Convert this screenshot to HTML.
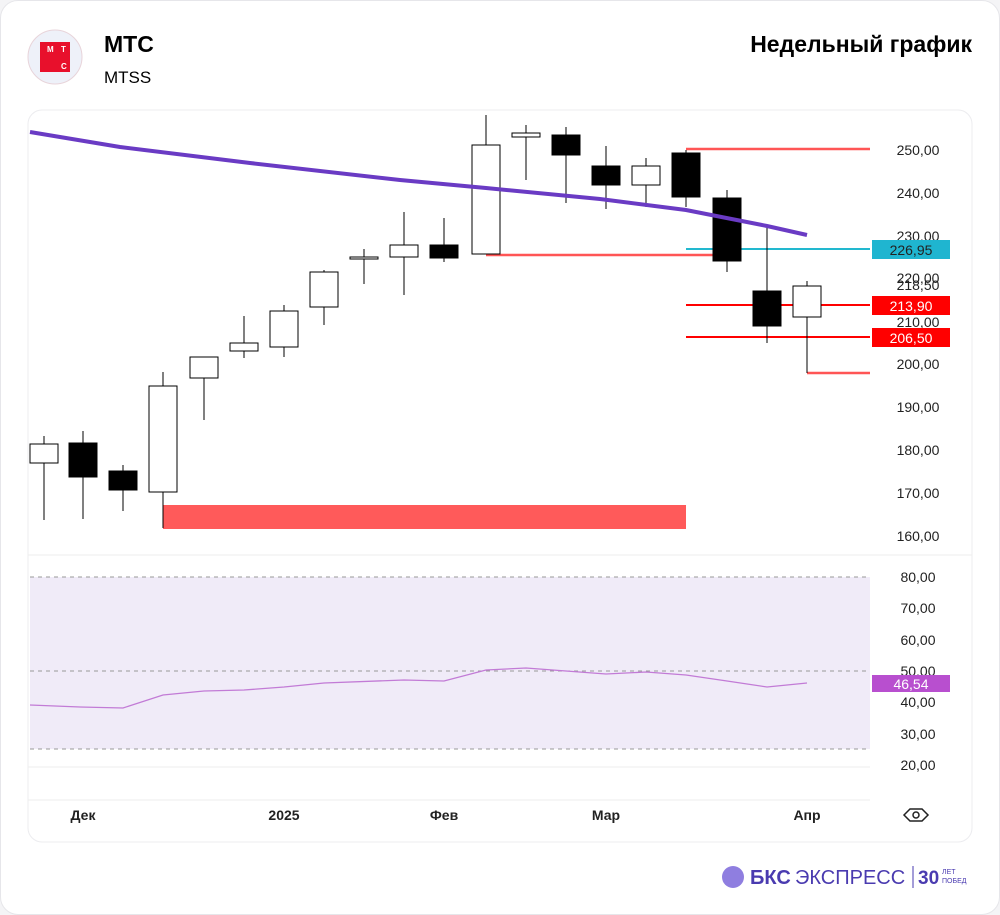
<!DOCTYPE html>
<html><head><meta charset="utf-8"><style>
body{margin:0;background:#f4f4f6;}
.c{position:absolute;left:0;top:0;width:998px;height:913px;background:#fff;border:1px solid #e6e6ea;border-radius:18px;}
</style></head><body>
<div class="c"></div>
<svg width="1000" height="915" style="position:absolute;left:0;top:0" font-family="Liberation Sans, sans-serif">
<circle cx="55" cy="57" r="27" fill="#eef1f9" stroke="#e8d4da"/>
<rect x="40" y="42" width="30" height="30" fill="#e8102c"/>
<text x="47" y="52" font-size="8" fill="#fff" font-weight="bold">M</text>
<text x="61" y="52" font-size="8" fill="#fff" font-weight="bold">T</text>
<text x="61" y="69" font-size="8" fill="#fff" font-weight="bold">C</text>
<text x="104" y="52" font-size="23" font-weight="bold">МТС</text>
<text x="104" y="83" font-size="17">MTSS</text>
<text x="972" y="52" font-size="23" font-weight="bold" text-anchor="end">Недельный график</text>
<rect x="28" y="110" width="944" height="732" rx="14" fill="#fff" stroke="#ececef"/>
<line x1="28" y1="555" x2="972" y2="555" stroke="#eee"/>
<line x1="28" y1="767" x2="870" y2="767" stroke="#eee"/>
<line x1="28" y1="800" x2="870" y2="800" stroke="#eee"/>
<!-- RSI -->
<rect x="30" y="577" width="840" height="172" fill="#f0ebf8"/>
<g stroke="#999" stroke-dasharray="4,4"><line x1="30" y1="577" x2="870" y2="577"/><line x1="30" y1="671" x2="870" y2="671"/><line x1="30" y1="749" x2="870" y2="749"/></g>
<polyline fill="none" stroke="#c27bd6" stroke-width="1.3" points="30,705 80,707 123,708 163,695 204,691 244,690 284,687 324,683 404,680 444,681 486,670 526,668 566,671 606,674 646,672 686,675 727,681 767,687 807,683"/>
<!-- levels -->
<rect x="163" y="505" width="523" height="24" fill="#ff5a5a"/>
<line x1="686" y1="149" x2="870" y2="149" stroke="#f55" stroke-width="2.5"/>
<line x1="486" y1="255" x2="727" y2="255" stroke="#f55" stroke-width="2.5"/>
<line x1="686" y1="249" x2="870" y2="249" stroke="#22b8cf" stroke-width="2"/>
<line x1="686" y1="305" x2="870" y2="305" stroke="#f00" stroke-width="2"/>
<line x1="686" y1="337" x2="870" y2="337" stroke="#f00" stroke-width="2"/>
<line x1="807" y1="373" x2="870" y2="373" stroke="#f55" stroke-width="2.5"/>
<!-- candles -->
<g stroke="#000" stroke-width="1">
<line x1="44" y1="436" x2="44" y2="520"/><rect x="30" y="444" width="28" height="19" fill="#fff"/>
<line x1="83" y1="431" x2="83" y2="519"/><rect x="69" y="443" width="28" height="34" fill="#000"/>
<line x1="123" y1="465" x2="123" y2="511"/><rect x="109" y="471" width="28" height="19" fill="#000"/>
<line x1="163" y1="372" x2="163" y2="528"/><rect x="149" y="386" width="28" height="106" fill="#fff"/>
<line x1="204" y1="357" x2="204" y2="420"/><rect x="190" y="357" width="28" height="21" fill="#fff"/>
<line x1="244" y1="316" x2="244" y2="358"/><rect x="230" y="343" width="28" height="8" fill="#fff"/>
<line x1="284" y1="305" x2="284" y2="357"/><rect x="270" y="311" width="28" height="36" fill="#fff"/>
<line x1="324" y1="270" x2="324" y2="325"/><rect x="310" y="272" width="28" height="35" fill="#fff"/>
<line x1="364" y1="249" x2="364" y2="284"/><rect x="350" y="257" width="28" height="2" fill="#fff"/>
<line x1="404" y1="212" x2="404" y2="295"/><rect x="390" y="245" width="28" height="12" fill="#fff"/>
<line x1="444" y1="218" x2="444" y2="262"/><rect x="430" y="245" width="28" height="13" fill="#000"/>
<line x1="486" y1="115" x2="486" y2="254"/><rect x="472" y="145" width="28" height="109" fill="#fff"/>
<line x1="526" y1="125" x2="526" y2="180"/><rect x="512" y="133" width="28" height="4" fill="#fff"/>
<line x1="566" y1="127" x2="566" y2="203"/><rect x="552" y="135" width="28" height="20" fill="#000"/>
<line x1="606" y1="146" x2="606" y2="209"/><rect x="592" y="166" width="28" height="19" fill="#000"/>
<line x1="646" y1="158" x2="646" y2="207"/><rect x="632" y="166" width="28" height="19" fill="#fff"/>
<line x1="686" y1="150" x2="686" y2="207"/><rect x="672" y="153" width="28" height="44" fill="#000"/>
<line x1="727" y1="190" x2="727" y2="272"/><rect x="713" y="198" width="28" height="63" fill="#000"/>
<line x1="767" y1="226" x2="767" y2="343"/><rect x="753" y="291" width="28" height="35" fill="#000"/>
<line x1="807" y1="281" x2="807" y2="373"/><rect x="793" y="286" width="28" height="31" fill="#fff"/>
</g>
<polyline fill="none" stroke="#6a3bc4" stroke-width="4" points="30,132 120,147 250,163 400,180 486,188 600,199 686,210 767,226 807,235"/>
<!-- axis labels -->
<g font-size="14" fill="#222" text-anchor="middle">
<text x="918" y="155">250,00</text><text x="918" y="198">240,00</text><text x="918" y="241">230,00</text>
<text x="918" y="283">220,00</text><text x="918" y="290">218,50</text><text x="918" y="327">210,00</text>
<text x="918" y="369">200,00</text><text x="918" y="412">190,00</text><text x="918" y="455">180,00</text>
<text x="918" y="498">170,00</text><text x="918" y="541">160,00</text>
<text x="918" y="582">80,00</text><text x="918" y="613">70,00</text><text x="918" y="645">60,00</text>
<text x="918" y="676">50,00</text><text x="918" y="707">40,00</text><text x="918" y="739">30,00</text><text x="918" y="770">20,00</text>
</g>
<rect x="872" y="240" width="78" height="19" fill="#1fb5d0"/><text x="911" y="255" font-size="14" text-anchor="middle" fill="#222">226,95</text>
<rect x="872" y="296" width="78" height="19" fill="#f00"/><text x="911" y="311" font-size="14" text-anchor="middle" fill="#fff">213,90</text>
<rect x="872" y="328" width="78" height="19" fill="#f00"/><text x="911" y="343" font-size="14" text-anchor="middle" fill="#fff">206,50</text>
<rect x="872" y="675" width="78" height="17" fill="#b84fcf"/><text x="911" y="689" font-size="14" text-anchor="middle" fill="#fff">46,54</text>
<g font-size="14" fill="#222" text-anchor="middle" font-weight="bold">
<text x="83" y="820">Дек</text><text x="284" y="820">2025</text><text x="444" y="820">Фев</text><text x="606" y="820">Мар</text><text x="807" y="820">Апр</text></g>
<path d="M904,815 l6,-6 h12 l6,6 l-6,6 h-12z" fill="none" stroke="#222" stroke-width="1.5"/><circle cx="916" cy="815" r="3" fill="none" stroke="#222" stroke-width="1.5"/>
<circle cx="733" cy="877" r="11" fill="#8f7ee0"/>
<text x="750" y="884" font-size="20" fill="#4a3bb0" font-weight="bold">БКС</text>
<text x="795" y="884" font-size="20" fill="#4a3bb0">ЭКСПРЕСС</text>
<line x1="913" y1="866" x2="913" y2="888" stroke="#4a3bb0"/>
<text x="918" y="884" font-size="19" fill="#4a3bb0" font-weight="bold">30</text>
<text x="942" y="874" font-size="7" fill="#4a3bb0">ЛЕТ</text><text x="942" y="883" font-size="7" fill="#4a3bb0">ПОБЕД</text>
</svg>
</body></html>
